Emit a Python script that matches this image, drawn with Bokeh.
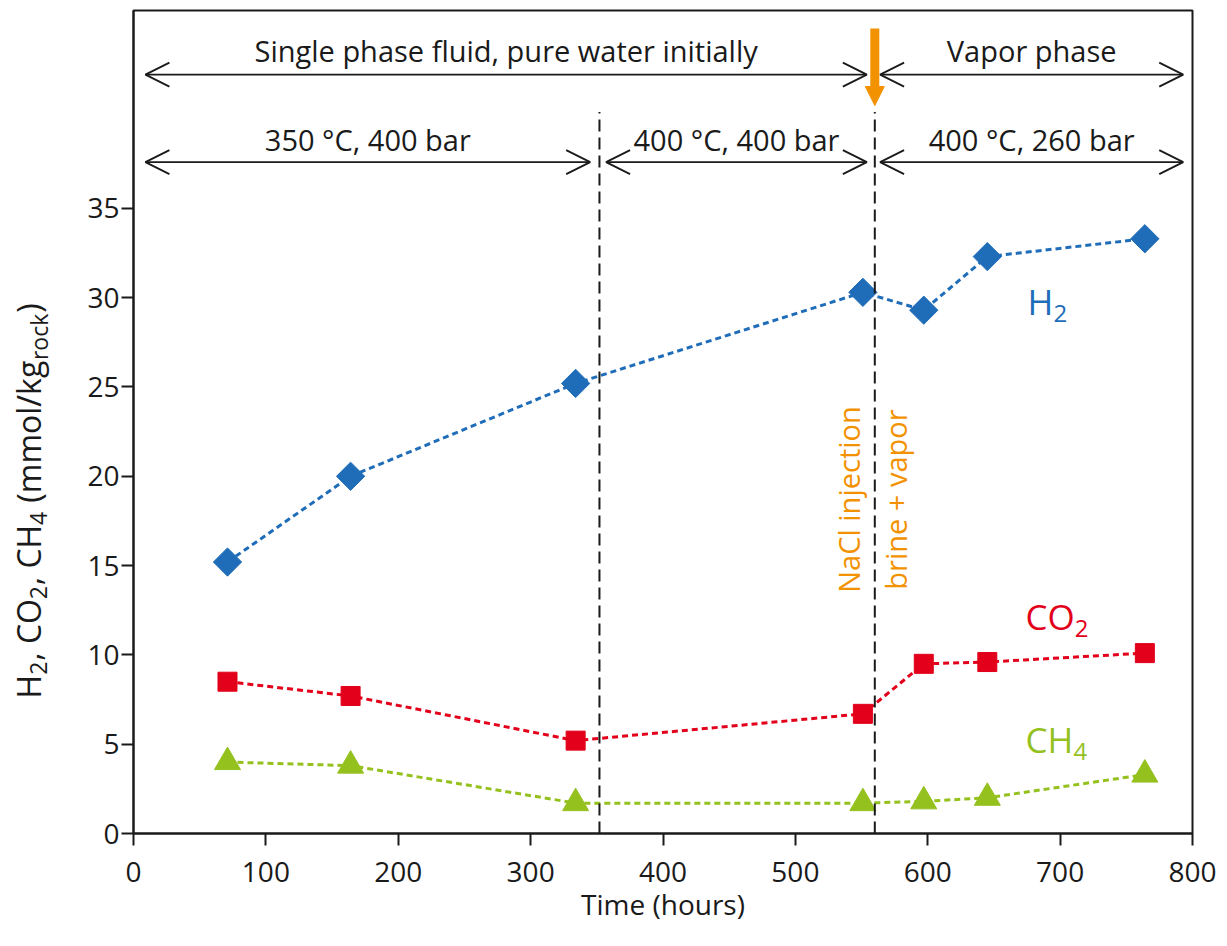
import math
from bokeh.plotting import figure
from bokeh.models import Range1d, Arrow, OpenHead, NormalHead, Label, FixedTicker, BoxAnnotation
from bokeh.embed import file_html
from bokeh.resources import INLINE

FONT = "Open Sans"

# ---------------- data ----------------
time_h = [71, 164, 334, 551, 597, 645, 764]
h2 = [15.2, 20.0, 25.2, 30.3, 29.3, 32.3, 33.3]
co2 = [8.5, 7.7, 5.2, 6.7, 9.5, 9.6, 10.1]
ch4 = [4.0, 3.8, 1.7, 1.7, 1.8, 2.0, 3.3]

x_ticks = [0, 100, 200, 300, 400, 500, 600, 700, 800]
y_ticks = [0, 5, 10, 15, 20, 25, 30, 35]

stage_bounds = [352, 560]          # dashed lines (hours)
injection_time = 560               # NaCl injection

phase_spans = [(9, 554, "Single phase fluid, pure water initially"),
               (564, 793, "Vapor phase")]
cond_spans = [(9, 345, "350 °C, 400 bar"),
              (357, 554, "400 °C, 400 bar"),
              (564, 793, "400 °C, 260 bar")]

BLUE = "#1f6db8"
RED = "#e2001a"
GREEN = "#95c11f"
ORANGE = "#f39200"
INK = "#1a1a1a"

# ---------------- geometry ----------------
CW, CH = 1219, 938               # canvas (= frame) size in px
AX_L, AX_R = 133, 1192           # x = 0 and x = 800 in px
AX_B, AX_T = 833, 10             # y = 0 and top of box in px
X_MIN, X_MAX = 0, 800
Y_MIN, Y_MAX = 0, 46.08
PXX = (AX_R - AX_L) / (X_MAX - X_MIN)
PXY = (AX_B - AX_T) / (Y_MAX - Y_MIN)

x_range = Range1d(X_MIN - AX_L / PXX, X_MIN + (CW - AX_L) / PXX)
y_range = Range1d(Y_MIN - (CH - AX_B) / PXY, Y_MIN + AX_B / PXY)

p = figure(frame_width=CW, frame_height=CH, x_range=x_range, y_range=y_range,
           output_backend="svg", toolbar_location=None,
           min_border_left=0, min_border_right=0, min_border_top=0, min_border_bottom=0)
p.background_fill_color = "white"
p.border_fill_color = "white"
p.outline_line_color = None
p.xgrid.visible = False
p.ygrid.visible = False

for ax in (p.xaxis[0], p.yaxis[0]):
    ax.fixed_location = 0
    ax.axis_line_color = INK
    ax.axis_line_width = 2
    ax.major_tick_line_color = INK
    ax.major_tick_line_width = 2
    ax.major_tick_in = 0
    ax.major_tick_out = 12
    ax.minor_tick_line_color = None
    ax.major_label_text_font = FONT
    ax.major_label_text_font_size = "28px"
    ax.major_label_text_color = INK

p.xaxis.ticker = FixedTicker(ticks=x_ticks)
p.yaxis.ticker = FixedTicker(ticks=y_ticks)
p.xaxis.bounds = (X_MIN, X_MAX)
p.yaxis.bounds = (Y_MIN, Y_MAX)
p.xaxis.major_label_standoff = 16
p.yaxis.major_label_standoff = 2

# plot box
p.add_layout(BoxAnnotation(left=X_MIN, right=X_MAX, bottom=Y_MIN, top=Y_MAX,
                           fill_alpha=0, fill_color=None, line_color=INK,
                           line_alpha=1.0, line_width=2, level="underlay"))

# ---------------- series ----------------
p.line(time_h, h2, line_color=BLUE, line_width=3, line_dash="6 4")
p.scatter(time_h, h2, marker="square", size=20, angle=math.pi / 4,
          fill_color=BLUE, line_color=BLUE)
p.line(time_h, co2, line_color=RED, line_width=3, line_dash="6 4")
p.scatter(time_h, co2, marker="square", size=19, fill_color=RED, line_color=RED)
p.line(time_h, ch4, line_color=GREEN, line_width=3, line_dash="6 4")
p.scatter(time_h, ch4, marker="triangle", size=26, fill_color=GREEN, line_color=GREEN)

# ---------------- stage boundaries ----------------
LINE_TOP = 40.4
p.segment(x0=stage_bounds, y0=[0] * len(stage_bounds), x1=stage_bounds,
          y1=[LINE_TOP] * len(stage_bounds), line_color=INK, line_width=2,
          line_dash="12 6")

MID = 0.388  # baseline sits this many em below the 'middle' anchor


def y_for_baseline(page_y, size):
    """data y of a 'middle' anchor whose baseline is at page_y px"""
    return Y_MIN + (AX_B - (page_y - MID * size)) / PXY


def x_of(page_x):
    return X_MIN + (page_x - AX_L) / PXX


ROW1_ARROW, ROW2_ARROW = 42.49, 37.59
ROW1_TEXT = y_for_baseline(61, 29)
ROW2_TEXT = y_for_baseline(150, 29)


def double_arrow(x0, x1, y):
    p.add_layout(Arrow(x_start=x0, y_start=y, x_end=x1, y_end=y,
                       line_color=INK, line_width=1.8,
                       start=OpenHead(size=24, line_color=INK, line_width=1.8),
                       end=OpenHead(size=24, line_color=INK, line_width=1.8)))


for x0, x1, txt in phase_spans:
    double_arrow(x0, x1, ROW1_ARROW)
    p.add_layout(Label(x=(x0 + x1) / 2, y=ROW1_TEXT, text=txt, text_align="center",
                       text_baseline="middle", text_font=FONT,
                       text_font_size="29px", text_color=INK))
for x0, x1, txt in cond_spans:
    double_arrow(x0, x1, ROW2_ARROW)
    p.add_layout(Label(x=(x0 + x1) / 2, y=ROW2_TEXT, text=txt, text_align="center",
                       text_baseline="middle", text_font=FONT,
                       text_font_size="29px", text_color=INK))

# orange injection arrow
p.add_layout(Arrow(x_start=injection_time, y_start=45.07, x_end=injection_time, y_end=40.76,
                   line_color=ORANGE, line_width=9,
                   end=NormalHead(size=19, fill_color=ORANGE, line_color=ORANGE, line_width=1),
                   start=None))

p.add_layout(Label(x=injection_time - 26 / PXX, y=18.7, text="NaCl injection",
                   angle=math.pi / 2, text_align="center", text_baseline="middle",
                   text_font=FONT, text_font_size="29px", text_color=ORANGE))
p.add_layout(Label(x=injection_time + 21 / PXX, y=18.7, text="brine + vapor",
                   angle=math.pi / 2, text_align="center", text_baseline="middle",
                   text_font=FONT, text_font_size="29px", text_color=ORANGE))

# ---------------- species labels ----------------
SP_MAIN = 35
SP_SUB = 24
W = {" ": 532, "(": 604, ")": 604, ",": 502, "/": 760, "2": 1171, "4": 1171,
     "C": 1296, "H": 1516, "O": 1593, "k": 1075, "g": 1122, "m": 1905, "o": 1237,
     "l": 518, "r": 836, "c": 975}


def tw(s, size):
    return sum(W.get(ch, 1100) for ch in s) / 2048.0 * size


def species(page_x, page_base, main, sub, color):
    x = x_of(page_x)
    p.add_layout(Label(x=x, y=y_for_baseline(page_base, SP_MAIN), text=main,
                       text_font=FONT, text_font_size=f"{SP_MAIN}px",
                       text_baseline="middle", text_align="left", text_color=color))
    p.add_layout(Label(x=x + tw(main, SP_MAIN) / PXX, y=y_for_baseline(page_base + 7, SP_SUB),
                       text=sub, text_font=FONT, text_font_size=f"{SP_SUB}px",
                       text_baseline="middle", text_align="left", text_color=color))


species(1027, 315, "H", "2", BLUE)
species(1025, 630, "CO", "2", RED)
species(1025, 753, "CH", "4", GREEN)

# ---------------- axis titles ----------------
p.add_layout(Label(x=(X_MIN + X_MAX) / 2, y=y_for_baseline(914, 28), text="Time (hours)",
                   text_align="center", text_baseline="middle", text_font=FONT,
                   text_font_size="28px", text_color=INK))

YL_MAIN = 32
YL_SUB = 23
# (text, is_subscript, leading space)
pieces = [("H", False, False), ("2", True, False), (", CO", False, False), ("2", True, False),
          (", CH", False, False), ("4", True, False), ("(mmol/kg", False, True),
          ("rock", True, False), (")", False, False)]
pos = 698.0      # page y where the label starts (bottom)
BASE_X = 40.0    # page x of the main-text baseline
for txt, is_sub, lead in pieces:
    size = YL_SUB if is_sub else YL_MAIN
    if lead:
        pos -= tw(" ", size)
    bx = BASE_X + (7 if is_sub else 0)
    p.add_layout(Label(x=x_of(bx - MID * size), y=Y_MIN + (AX_B - pos) / PXY,
                       text=txt, angle=math.pi / 2, text_align="left",
                       text_baseline="middle", text_font=FONT,
                       text_font_size=f"{size}px", text_color=INK))
    pos -= tw(txt, size) + (1 if is_sub else 0)

open("out.html", "w").write(file_html(p, INLINE))
